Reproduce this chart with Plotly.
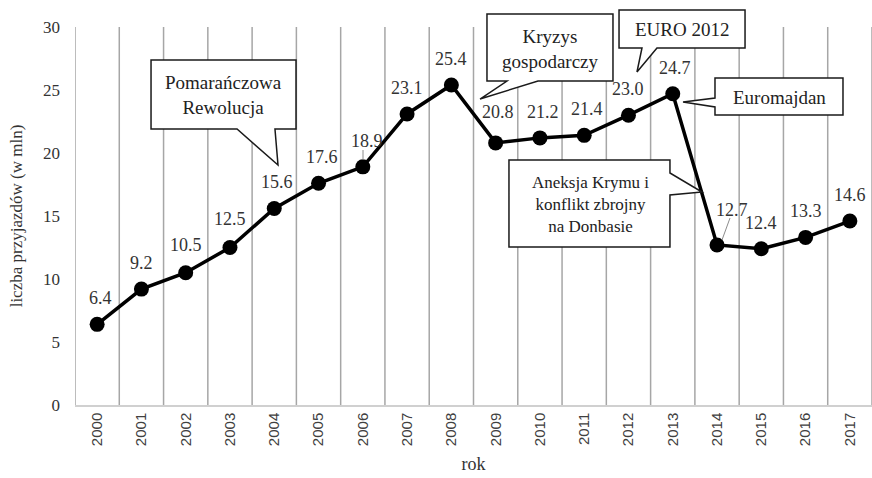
import plotly.graph_objects as go

# -------------------------------------------------
# Data
# -------------------------------------------------
years = list(range(2000, 2018))
arrivals = [6.4, 9.2, 10.5, 12.5, 15.6, 17.6, 18.9, 23.1, 25.4, 20.8,
            21.2, 21.4, 23.0, 24.7, 12.7, 12.4, 13.3, 14.6]
value_labels = [f"{v:.1f}" for v in arrivals]

# label nudges (px) for values that sit off-centre in the original
label_dx = {2000: 3, 2004: 3, 2005: 3, 2006: 4, 2009: 2, 2010: 3, 2011: 3, 2013: 2, 2014: 15}
label_dy = {2009: 31, 2014: 35, 2002: 28, 2003: 29}

SERIF = "Liberation Serif, Times New Roman, serif"
SANS = "Liberation Sans, Arial, sans-serif"

W, H = 872, 478
L, R, T, B = 75, 0, 27, 73
PW, PH = W - L - R, H - T - B


def px(x, y):
    """pixel position on the page -> paper coordinates"""
    return (x - L) / PW, (H - B - y) / PH


def bubble_path(points):
    pts = [px(x, y) for x, y in points]
    return "M " + " L ".join(f"{a:.4f},{b:.4f}" for a, b in pts) + " Z"


fig = go.Figure()

# vertical separators between years
for i in range(len(years) + 1):
    fig.add_shape(type="line", xref="x", yref="paper",
                  x0=years[0] - 0.5 + i, x1=years[0] - 0.5 + i, y0=0, y1=1,
                  line=dict(color="#a6a6a6", width=1.5), layer="below")

fig.add_trace(go.Scatter(
    x=years, y=arrivals, mode="lines+markers",
    line=dict(color="black", width=3.5),
    marker=dict(color="black", size=15),
    hoverinfo="x+y", showlegend=False,
))

for yr, v, lab in zip(years, arrivals, value_labels):
    fig.add_annotation(x=yr, y=v, text=lab, showarrow=False,
                       xanchor="center", yanchor="middle",
                       xshift=label_dx.get(yr, 0), yshift=label_dy.get(yr, 26),
                       font=dict(family=SERIF, size=18, color="#333333"))

# small leader lines
for (x0, y0, x1, y1) in [(363, 150, 363, 160), (730, 218, 722, 240)]:
    a0, b0 = px(x0, y0)
    a1, b1 = px(x1, y1)
    fig.add_shape(type="line", xref="paper", yref="paper", x0=a0, y0=b0, x1=a1, y1=b1,
                  line=dict(color="#8c8c8c", width=1))

# callouts: outline (page pixels) and text
callouts = [
    ([(151, 60), (296, 60), (296, 129), (275, 129), (278, 165), (237, 129), (151, 129)],
     (223, 95), "Pomarańczowa<br>Rewolucja", 19),
    ([(487, 14), (613, 14), (613, 81), (538, 81), (480, 99), (507, 81), (487, 81)],
     (550, 49), "Kryzys<br>gospodarczy", 19),
    ([(619, 10), (745, 10), (745, 48), (657, 48), (637, 72), (642, 48), (619, 48)],
     (682, 30), "EURO 2012", 19),
    ([(715, 78), (843, 78), (843, 115), (715, 115), (715, 107), (683, 102), (715, 98)],
     (779, 97), "Euromajdan", 19),
    ([(509, 160), (670, 160), (670, 173), (702, 192), (670, 195), (670, 247), (509, 247)],
     (590, 204), "Aneksja Krymu i<br>konflikt zbrojny<br>na Donbasie", 17),
]
for outline, (cx, cy), text, fs in callouts:
    fig.add_shape(type="path", xref="paper", yref="paper", path=bubble_path(outline),
                  line=dict(color="#1a1a1a", width=1.5), fillcolor="white", layer="above")
    ax, ay = px(cx, cy)
    fig.add_annotation(x=ax, y=ay, xref="paper", yref="paper", text=text, showarrow=False,
                       xanchor="center", yanchor="middle",
                       font=dict(family=SERIF, size=fs, color="#222222"))

fig.update_layout(
    width=W, height=H,
    margin=dict(l=L, r=R, t=T, b=B),
    paper_bgcolor="white", plot_bgcolor="white",
    xaxis=dict(
        range=[years[0] - 0.5, years[-1] + 0.5], automargin=False,
        tickmode="array", tickvals=years, ticktext=[str(y) for y in years],
        tickangle=-90, tickfont=dict(family=SANS, size=15, color="#404040"),
        showgrid=False, zeroline=False,
        showline=True, linecolor="#d0d0d0", linewidth=1.5,
        title=dict(text="rok", font=dict(family=SERIF, size=18, color="#333333"), standoff=12),
    ),
    yaxis=dict(
        range=[0, 30], dtick=5, automargin=False,
        tickfont=dict(family=SERIF, size=17, color="#333333"),
        showgrid=False, zeroline=False, showline=False,
        ticklabelstandoff=14,
        title=dict(text="liczba przyjazdów (w mln)", font=dict(family=SERIF, size=17, color="#333333"),
                   standoff=16),
    ),
)

# page body has a default 8px margin; drop it so the chart fills the window
fig.write_html("out.html", config={"displayModeBar": False},
               post_script="document.body.style.margin='0';")
